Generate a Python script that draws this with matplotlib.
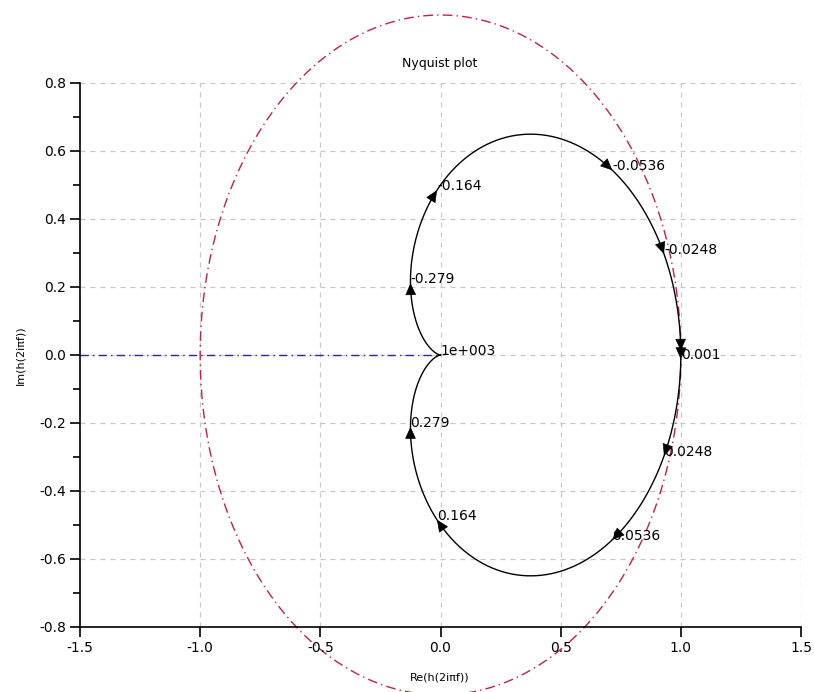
import numpy as np
import matplotlib
matplotlib.use("Agg")
import matplotlib.pyplot as plt

# Transfer function h(s) = num(s)/den(s), coefficients highest power first
num = [1.0]
den = [1.0, 2.0, 1.0]
f_min, f_max = 0.001, 1000.0          # frequency range (Hz)
label_freqs = [0.001, 0.0248, 0.0536, 0.164, 0.279, 1000.0]
label_texts = ["0.001", "0.0248", "0.0536", "0.164", "0.279", "1e+003"]
neg_label_texts = ["-0.001", "-0.0248", "-0.0536", "-0.164", "-0.279", "-1e+003"]
xticks = [-1.5, -1.0, -0.5, 0.0, 0.5, 1.0, 1.5]
yticks = [-0.8, -0.6, -0.4, -0.2, 0.0, 0.2, 0.4, 0.6, 0.8]

plt.rcParams['axes.unicode_minus'] = False
plt.rcParams['font.family'] = ['DejaVu Sans']


def h(f):
    s = 2j * np.pi * np.asarray(f)
    return np.polyval(num, s) / np.polyval(den, s)


fig = plt.figure(figsize=(8.14, 6.92), dpi=100)
ax = fig.add_axes([80/814, 65/692, 721/814, 544/692])

# grid
for xv in xticks[1:]:
    ax.axvline(xv, color='#c8c8c8', lw=0.9, ls=(0, (4, 4)), zorder=0)
for yv in yticks[1:]:
    ax.axhline(yv, color='#c8c8c8', lw=0.9, ls=(0, (4, 4)), zorder=0)

# unit circle (red dash-dot), not clipped
th = np.linspace(0, 2*np.pi, 600)
ax.plot(np.cos(th), np.sin(th), color='#c8203c', lw=1.0, ls=(0, (7, 3, 1, 3)),
        clip_on=False, zorder=1)

# blue dash-dot line
ax.plot([-1.5, 0.0], [0.0, 0.0], color='#2828a8', lw=1.0, ls=(0, (6, 3, 1, 3)), zorder=1)

# Nyquist curve
f = np.logspace(np.log10(f_min), np.log10(f_max), 2000)
hp = h(f)
ax.plot(hp.real, hp.imag, color='black', lw=1.0, zorder=3)
ax.plot(hp.real, -hp.imag, color='black', lw=1.0, zorder=3)


def arrow(p_from, p_to):
    ax.annotate('', xy=(p_to.real, p_to.imag), xytext=(p_from.real, p_from.imag),
                arrowprops=dict(arrowstyle='-|>,head_length=0.55,head_width=0.25',
                                color='black', lw=0.5, shrinkA=0, shrinkB=0,
                                mutation_scale=14), zorder=4)


for fr, lab, nlab in zip(label_freqs, label_texts, neg_label_texts):
    p = h(fr)
    if fr < f_max:
        # positive branch, increasing frequency
        arrow(h(fr / 1.03), p)
        # negative branch: increasing frequency means from -fr*1.03 to -fr
        arrow(np.conj(h(fr * 1.03)), np.conj(p))
    ax.text(p.real, p.imag, lab, fontsize=10, ha='left', va='baseline', zorder=5)
    if fr not in (0.001, 1000.0):
        ax.text(p.real, -p.imag, nlab, fontsize=10, ha='left', va='baseline', zorder=5)

ax.set_xlim(-1.5, 1.5)
ax.set_ylim(-0.8, 0.8)
ax.set_xticks(xticks)
ax.set_yticks(yticks)
ax.set_xticklabels([f"{v:.1f}" for v in xticks])
ax.set_yticklabels([f"{v:.1f}" for v in yticks])
ax.set_yticks(np.arange(-0.7, 0.8, 0.2), minor=True)
ax.tick_params(axis='both', which='major', direction='out', length=7, width=1.2,
               labelsize=10, pad=3)
ax.tick_params(axis='y', which='minor', direction='out', length=5, width=1.2)
for side in ('top', 'right'):
    ax.spines[side].set_visible(False)
for side in ('left', 'bottom'):
    ax.spines[side].set_linewidth(1.2)

fig.text(440/814, 1 - 63/692, "Nyquist plot", ha='center', va='center', fontsize=9)
fig.text(440/814, 1 - 677/692, "Re(h(2iπf))", ha='center', va='center', fontsize=8)
fig.text(20/814, 1 - 355/692, "Im(h(2iπf))", ha='center', va='center', fontsize=8,
         rotation=90)

fig.savefig("out.png", dpi=100)
